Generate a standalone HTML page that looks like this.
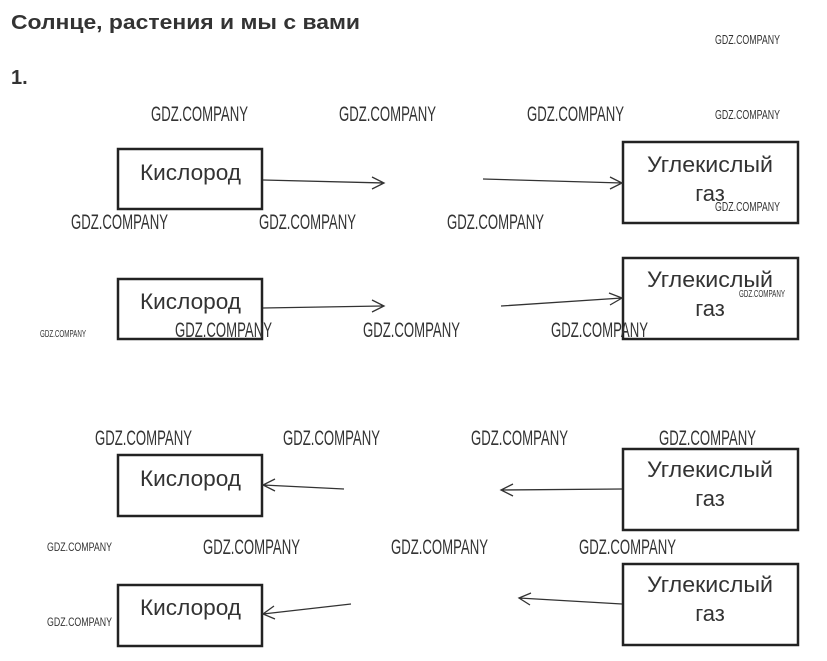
<!DOCTYPE html>
<html><head><meta charset="utf-8"><style>body{margin:0;background:#fff}svg{display:block}</style></head><body>
<svg width="827" height="661" xmlns="http://www.w3.org/2000/svg" font-family="Liberation Sans, sans-serif">
<text x="11" y="29" font-size="20" font-weight="bold" fill="#333" textLength="349" lengthAdjust="spacingAndGlyphs">Солнце, растения и мы с вами</text>
<text x="11" y="84" font-size="20" font-weight="bold" fill="#333">1.</text>
<g fill="none" stroke="#222" stroke-width="2.5">
<rect x="118" y="149" width="144" height="60"/><rect x="118" y="279" width="144" height="60"/>
<rect x="118" y="455" width="144" height="61"/><rect x="118" y="585" width="144" height="61"/>
<rect x="623" y="142" width="175" height="81"/><rect x="623" y="258" width="175" height="81"/>
<rect x="623" y="449" width="175" height="81"/><rect x="623" y="564" width="175" height="81"/>
</g>
<g fill="none" stroke="#333" stroke-width="1.3">
<path d="M263 180L384 183M372 177L384 183L372 189"/>
<path d="M483 179L622 183M610 177L622 183L610 189"/>
<path d="M263 308L384 306M372 300L384 306L372 312"/>
<path d="M501 306L622 298M609 293L622 298L610 305"/>
<path d="M344 489L263 485M275 479L263 485L275 491"/>
<path d="M622 489L501 490M513 484L501 490L513 496"/>
<path d="M351 604L263 614M274 606L263 614L275 619"/>
<path d="M622 604L519 598M531 593L519 598L530 605"/>
</g>
<g font-size="22" fill="#333">
<text x="140" y="180" textLength="101" lengthAdjust="spacingAndGlyphs">Кислород</text><text x="140" y="309" textLength="101" lengthAdjust="spacingAndGlyphs">Кислород</text>
<text x="140" y="486" textLength="101" lengthAdjust="spacingAndGlyphs">Кислород</text><text x="140" y="615" textLength="101" lengthAdjust="spacingAndGlyphs">Кислород</text>
<g text-anchor="middle">
<text x="710" y="172" textLength="126" lengthAdjust="spacingAndGlyphs">Углекислый</text><text x="710" y="201">газ</text>
<text x="710" y="287" textLength="126" lengthAdjust="spacingAndGlyphs">Углекислый</text><text x="710" y="316">газ</text>
<text x="710" y="477" textLength="126" lengthAdjust="spacingAndGlyphs">Углекислый</text><text x="710" y="506">газ</text>
<text x="710" y="592" textLength="126" lengthAdjust="spacingAndGlyphs">Углекислый</text><text x="710" y="621">газ</text>
</g></g>
<g fill="#333" font-size="21">
<text x="151" y="121" textLength="97" lengthAdjust="spacingAndGlyphs">GDZ.COMPANY</text>
<text x="339" y="121" textLength="97" lengthAdjust="spacingAndGlyphs">GDZ.COMPANY</text>
<text x="527" y="121" textLength="97" lengthAdjust="spacingAndGlyphs">GDZ.COMPANY</text>
<text x="71" y="229" textLength="97" lengthAdjust="spacingAndGlyphs">GDZ.COMPANY</text>
<text x="259" y="229" textLength="97" lengthAdjust="spacingAndGlyphs">GDZ.COMPANY</text>
<text x="447" y="229" textLength="97" lengthAdjust="spacingAndGlyphs">GDZ.COMPANY</text>
<text x="175" y="337" textLength="97" lengthAdjust="spacingAndGlyphs">GDZ.COMPANY</text>
<text x="363" y="337" textLength="97" lengthAdjust="spacingAndGlyphs">GDZ.COMPANY</text>
<text x="551" y="337" textLength="97" lengthAdjust="spacingAndGlyphs">GDZ.COMPANY</text>
<text x="95" y="445" textLength="97" lengthAdjust="spacingAndGlyphs">GDZ.COMPANY</text>
<text x="283" y="445" textLength="97" lengthAdjust="spacingAndGlyphs">GDZ.COMPANY</text>
<text x="471" y="445" textLength="97" lengthAdjust="spacingAndGlyphs">GDZ.COMPANY</text>
<text x="659" y="445" textLength="97" lengthAdjust="spacingAndGlyphs">GDZ.COMPANY</text>
<text x="203" y="554" textLength="97" lengthAdjust="spacingAndGlyphs">GDZ.COMPANY</text>
<text x="391" y="554" textLength="97" lengthAdjust="spacingAndGlyphs">GDZ.COMPANY</text>
<text x="579" y="554" textLength="97" lengthAdjust="spacingAndGlyphs">GDZ.COMPANY</text>
</g>
<g fill="#333" font-size="13">
<text x="715" y="44" textLength="65" lengthAdjust="spacingAndGlyphs">GDZ.COMPANY</text>
<text x="715" y="119" textLength="65" lengthAdjust="spacingAndGlyphs">GDZ.COMPANY</text>
<text x="715" y="211" textLength="65" lengthAdjust="spacingAndGlyphs">GDZ.COMPANY</text>
</g>
<g fill="#333" font-size="10">
<text x="40" y="337" textLength="46" lengthAdjust="spacingAndGlyphs">GDZ.COMPANY</text>
<text x="739" y="297" textLength="46" lengthAdjust="spacingAndGlyphs">GDZ.COMPANY</text>
<text x="47" y="551" textLength="65" lengthAdjust="spacingAndGlyphs" font-size="12">GDZ.COMPANY</text>
<text x="47" y="626" textLength="65" lengthAdjust="spacingAndGlyphs" font-size="12">GDZ.COMPANY</text>
</g>
</svg>
</body></html>
